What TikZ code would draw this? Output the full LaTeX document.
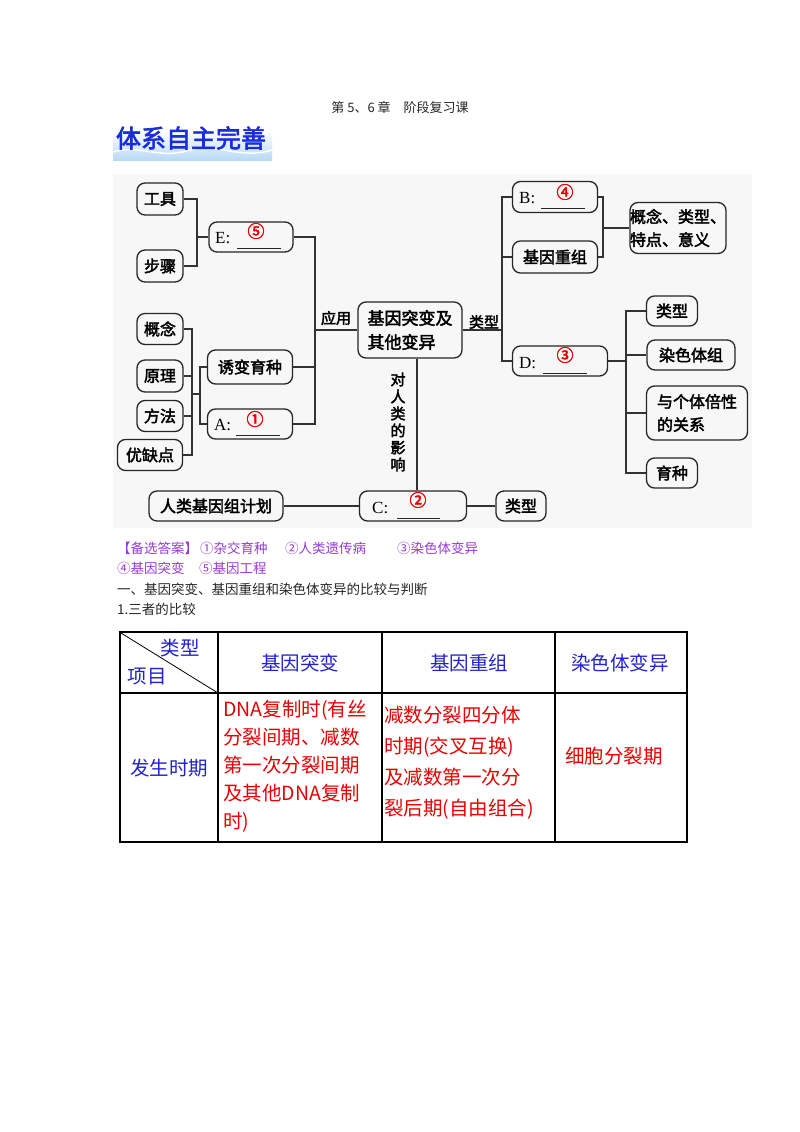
\documentclass[tikz,border=0pt]{standalone}
\usepackage{fontspec}
\setmainfont{Liberation Serif}
\newfontfamily\cjk[AutoFakeBold=2.5]{Noto Sans CJK SC}
\definecolor{purp}{RGB}{150,60,210}
\definecolor{tblue}{RGB}{35,35,205}
\definecolor{tred}{RGB}{230,0,0}
\definecolor{bblue}{RGB}{25,45,220}
\begin{document}
\begin{tikzpicture}[x=1pt,y=-1pt,
  box/.style={draw=black!85, line width=1.3pt, rounded corners=8pt, inner sep=0pt, align=center, font=\cjk\bfseries\fontsize{16}{23}\selectfont},
  ln/.style={draw=black!80, line width=1.2pt},
  lab/.style={font=\cjk\bfseries\fontsize{15}{17}\selectfont, inner sep=0pt},
  letter/.style={anchor=west, inner sep=0pt, font=\rmfamily\fontsize{17}{19}\selectfont},
  num/.style={inner sep=0pt, text=tred, font=\cjk\bfseries\fontsize{17}{17}\selectfont},
  blank/.style={draw=black!85, line width=0.9pt},
  plain/.style={inner sep=0pt, anchor=west, font=\cjk\fontsize{13.5}{16}\selectfont},
  th/.style={inner sep=0pt, text=tblue, font=\cjk\fontsize{19.5}{24}\selectfont},
  td/.style={inner sep=0pt, text=tred, anchor=west, align=left, font=\cjk\fontsize{19.5}{28}\selectfont}]
\useasboundingbox (0,0) rectangle (800,1132);
\fill[white] (0,0) rectangle (800,1132);

% title
\node[inner sep=0pt, text=black!85, font=\cjk\fontsize{13}{15}\selectfont] (title) at (400,107) {第 5、6 章\quad 阶段复习课};

% banner
\shade[top color=white, bottom color={rgb,255:red,185;green,218;blue,245}] (113,130) rectangle (272,160);
\draw[white, line width=1.5pt] (113,152) .. controls (140,144) and (160,160) .. (190,150) .. controls (215,142) and (240,160) .. (272,150);
\node[inner sep=0pt, text=bblue, font=\cjk\bfseries\fontsize{25}{28}\selectfont] (banner) at (191,138) {体系自主完善};

% diagram background
\fill[black!3] (113,174) rectangle (752,528);

% left nodes
\node[box, minimum width=46, minimum height=32] (gongju) at (160,199) {工具};
\node[box, minimum width=46, minimum height=32] (buzhou) at (160,266) {步骤};
\node[box, minimum width=84, minimum height=30] (E) at (251,237) {};
\node[box, minimum width=46, minimum height=31] (gainian) at (160,329) {概念};
\node[box, minimum width=46, minimum height=32] (yuanli) at (160,376) {原理};
\node[box, minimum width=46, minimum height=31] (fangfa) at (160,416) {方法};
\node[box, minimum width=65, minimum height=31] (youque) at (150,455) {优缺点};
\node[box, minimum width=85, minimum height=34] (youbian) at (250,367) {诱变育种};
\node[box, minimum width=85, minimum height=30] (A) at (250,424) {};

% center
\node[box, minimum width=104, minimum height=56, align=left, font=\cjk\bfseries\fontsize{17}{24}\selectfont] (center) at (410,330) {基因突变及\\其他变异};
\node[lab] (yingyong) at (336,318) {应用};
\node[lab] (leixing1) at (484,322) {类型};
\node[lab, align=center, font=\cjk\bfseries\fontsize{15}{17}\selectfont] (impact) at (398,422) {对\\人\\类\\的\\影\\响};

% bottom row
\node[box, minimum width=107, minimum height=30] (C) at (413,506) {};
\node[box, minimum width=134, minimum height=30] (hgp) at (216,506) {人类基因组计划};
\node[box, minimum width=50, minimum height=30] (leixing3) at (521,506) {类型};

% right nodes
\node[box, minimum width=85, minimum height=31] (B) at (555,197) {};
\node[box, minimum width=85, minimum height=32] (chongzu) at (555,257) {基因重组};
\node[box, minimum width=93, minimum height=51, align=left] (gnlx) at (678,228) {概念、类型、\\特点、意义};
\node[box, minimum width=95, minimum height=30] (D) at (560,361) {};
\node[box, minimum width=51, minimum height=30] (leixing2) at (672,311) {类型};
\node[box, minimum width=88, minimum height=30] (rstz) at (691,355) {染色体组};
\node[box, minimum width=101, minimum height=54, align=left] (beixing) at (697,413) {与个体倍性\\的关系};
\node[box, minimum width=51, minimum height=30] (yuzhong) at (672,473) {育种};

% letters, blanks, numbers
\node[letter] (Elet) at (215,238) {E:};
\draw[blank] (237,248) -- (281,248);
\node[num] (Enum) at (256,231) {⑤};
\node[letter] (Alet) at (214,425) {A:};
\draw[blank] (236,435) -- (280,435);
\node[num] (Anum) at (255,419) {①};
\node[letter] (Blet) at (519,198) {B:};
\draw[blank] (541,208) -- (585,208);
\node[num] (Bnum) at (565,192) {④};
\node[letter] (Dlet) at (519,363) {D:};
\draw[blank] (543,373) -- (587,373);
\node[num] (Dnum) at (565,355) {③};
\node[letter] (Clet) at (372,508) {C:};
\draw[blank] (397,518) -- (440,518);
\node[num] (Cnum) at (418,500) {②};

% connectors left
\coordinate (jE) at (197,237);
\draw[ln] (gongju.east) -| (jE) |- (buzhou.east);
\draw[ln] (jE) -- (E.west);
\coordinate (j1) at (192,394);
\coordinate (j2) at (200,394);
\draw[ln] (gainian.east) -| (j1) |- (youque.east);
\draw[ln] (yuanli.east) -- (yuanli.east -| j1);
\draw[ln] (fangfa.east) -- (fangfa.east -| j1);
\draw[ln] (j1) -- (j2);
\draw[ln] (youbian.west) -| (j2) |- (A.west);
\coordinate (jApp) at (315,330);
\draw[ln] (E.east) -| (jApp) |- (A.east);
\draw[ln] (youbian.east) -- (youbian.east -| jApp);
\draw[ln] (center.west) -- (jApp);

% connectors right
\coordinate (jT) at (502,330);
\draw[ln] (center.east) -- (jT);
\draw[ln] (B.west) -| (jT) |- (D.west);
\draw[ln] (chongzu.west) -- (chongzu.west -| jT);
\coordinate (jB) at (603,228);
\draw[ln] (B.east) -| (jB) |- (chongzu.east);
\draw[ln] (jB) -- (gnlx.west);
\coordinate (jD) at (626,361);
\draw[ln] (D.east) -- (jD);
\draw[ln] (leixing2.west) -| (jD) |- (yuzhong.west);
\draw[ln] (rstz.west) -- (rstz.west -| jD);
\draw[ln] (beixing.west) -- (beixing.west -| jD);

% vertical and bottom
\draw[ln] ([xshift=7pt]center.south) -- ([xshift=4pt]C.north);
\draw[ln] (hgp.east) -- (C.west);
\draw[ln] (C.east) -- (leixing3.west);

% answer text
\node[plain, text=purp] (ans1) at (117,548) {【备选答案】};
\node[plain, text=purp] (ans2) at (200,548) {①杂交育种};
\node[plain, text=purp] (ans3) at (285,548) {②人类遗传病};
\node[plain, text=purp] (ans4) at (397,548) {③染色体变异};
\node[plain, text=purp] (ans5) at (117,568) {④基因突变};
\node[plain, text=purp] (ans6) at (199,568) {⑤基因工程};
\node[plain, text=black!85] (sec1) at (117,589) {一、基因突变、基因重组和染色体变异的比较与判断};
\node[plain, text=black!85] (sec2) at (117,609) {1.三者的比较};

% table
\draw[line width=1.2pt] (120,693) -- (687,693);
\draw[line width=1.2pt] (218,632) -- (218,842);
\draw[line width=1.2pt] (382,632) -- (382,842);
\draw[line width=1.2pt] (555,632) -- (555,842);
\draw[line width=0.8pt] (121,633) -- (218,693);
\draw[line width=2.5pt] (120,632) rectangle (687,842);
\node[th] (hlx) at (180,648) {类型};
\node[th] (hxm) at (147,677) {项目};
\node[th] (h1) at (300,663) {基因突变};
\node[th] (h2) at (469,663) {基因重组};
\node[th] (h3) at (620,663) {染色体变异};
\node[th] (fs) at (169,768) {发生时期};
\node[td] (c1) at (223,766.5) {DNA复制时(有丝\\分裂间期、减数\\第一次分裂间期\\及其他DNA复制\\时)};
\node[td, font=\cjk\fontsize{19.5}{31}\selectfont] (c2) at (384,763) {减数分裂四分体\\时期(交叉互换)\\及减数第一次分\\裂后期(自由组合)};
\node[th, text=tred] (c3) at (614,756) {细胞分裂期};
\end{tikzpicture}
\end{document}
